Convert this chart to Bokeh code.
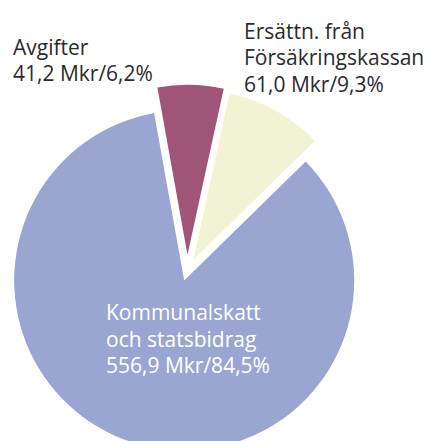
import math
from bokeh.plotting import figure
from bokeh.models import ColumnDataSource, Range1d, Label
from bokeh.embed import file_html
from bokeh.resources import INLINE

# ---- data ----
categories = ["Avgifter", "Ersättn. från Försäkringskassan", "Kommunalskatt och statsbidrag"]
values_mkr = [41.2, 61.0, 556.9]
percent = [6.2, 9.3, 84.5]
colors = ["#A05578", "#F2F2D4", "#9AA5D1"]
label_lines = [
    ["Avgifter", "41,2 Mkr/6,2%"],
    ["Ersättn. från", "Försäkringskassan", "61,0 Mkr/9,3%"],
    ["Kommunalskatt", "och statsbidrag", "556,9 Mkr/84,5%"],
]

# ---- styling / geometry ----
explode = [0.095, 0.076, 0.058]      # radial offsets (in radii)
start_clock_deg = -10.2              # first slice starts this far left of 12 o'clock
W, H = 425, 441
SCALE = 170.0                         # px per radius
OX, OY = 186.7, 270.5                 # pie centre in px (from top-left)

def px(sx, sy):
    """page px -> data coords"""
    return ((sx - OX) / SCALE, (OY - sy) / SCALE)

total = sum(values_mkr)
xs, ys, sa, ea = [], [], [], []
acc = start_clock_deg
for v, e in zip(values_mkr, explode):
    span = v / total * 360.0
    a0, a1 = acc, acc + span
    mid = math.radians((a0 + a1) / 2)
    xs.append(e * math.sin(mid))
    ys.append(e * math.cos(mid))
    sa.append(math.radians(90 - a1))
    ea.append(math.radians(90 - a0))
    acc = a1

src = ColumnDataSource(dict(x=xs, y=ys, start=sa, end=ea, color=colors, name=categories))

p = figure(width=W, height=H, output_backend="svg", toolbar_location=None,
           x_range=Range1d(-OX / SCALE, (W - OX) / SCALE),
           y_range=Range1d(-(H - OY) / SCALE, OY / SCALE),
           min_border=0, outline_line_color=None)
p.axis.visible = False
p.xgrid.visible = False
p.ygrid.visible = False
p.background_fill_color = "white"
p.border_fill_color = "white"

p.wedge(x="x", y="y", radius=1.0, start_angle="start", end_angle="end",
        fill_color="color", line_color=None, source=src)

FONT = "Open Sans"
FS = "21px"
def add_lines(lines, sx, sy0, step, color):
    for i, t in enumerate(lines):
        x, y = px(sx, sy0 + i * step)
        p.add_layout(Label(x=x, y=y, text=t, text_font=FONT, text_font_size=FS,
                           text_color=color, text_baseline="alphabetic", text_align="left"))

add_lines(label_lines[0], 12.5, 46.7, 25.5, "#2b2b2b")
add_lines(label_lines[1], 243.5, 30.0, 26.6, "#2b2b2b")
add_lines(label_lines[2], 105.5, 311.7, 26.6, "#ffffff")

open("out.html", "w").write(file_html(p, INLINE))
